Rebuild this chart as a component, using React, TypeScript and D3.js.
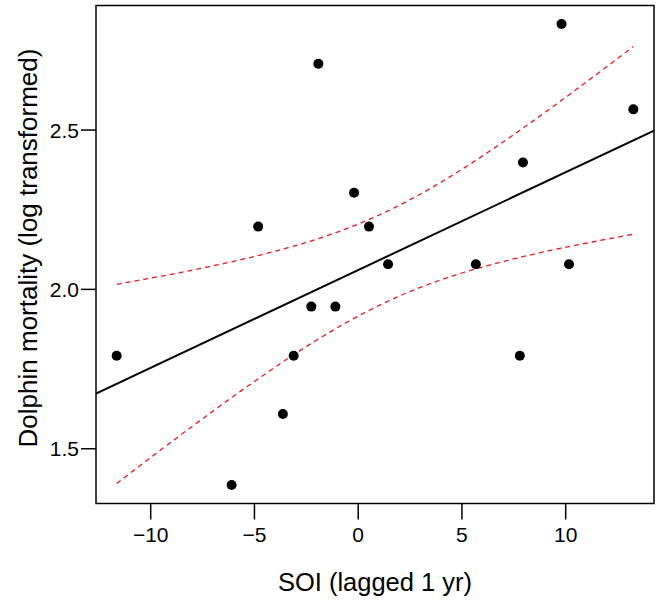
import React from "react";
import * as d3 from "d3";

const soi: number[] = [-11.64, -6.1, -3.63, -3.11, -2.26, -1.1, -4.82, -1.92, -0.2, 0.52, 1.44, 5.67, 7.79, 7.94, 9.8, 10.16, 13.26];
const mortality: number[] = [1.792, 1.386, 1.609, 1.792, 1.946, 1.946, 2.197, 2.708, 2.303, 2.197, 2.079, 2.079, 1.792, 2.398, 2.833, 2.079, 2.565];
const xTicks: number[] = [-10, -5, 0, 5, 10];
const yTicks: number[] = [1.5, 2.0, 2.5];
const xLabel = "SOI (lagged 1 yr)";
const yLabel = "Dolphin mortality (log transformed)";
const tQuantile = 1.753; // t(0.95, df = 15)

const W = 661, H = 602;
const left = 96, right = 654, top = 5.5, bottom = 503.5;

function rDomain(v: number[]): [number, number] {
  const [a, b] = d3.extent(v) as [number, number];
  const pad = (b - a) * 0.04;
  return [a - pad, b + pad];
}

export default function App() {
  const x = d3.scaleLinear().domain(rDomain(soi)).range([left, right]);
  const y = d3.scaleLinear().domain(rDomain(mortality)).range([bottom, top]);

  const n = soi.length;
  const mx = d3.mean(soi)!;
  const my = d3.mean(mortality)!;
  let sxx = 0, sxy = 0;
  soi.forEach((xi, i) => {
    sxx += (xi - mx) ** 2;
    sxy += (xi - mx) * (mortality[i] - my);
  });
  const b = sxy / sxx;
  const a = my - b * mx;
  let sse = 0;
  soi.forEach((xi, i) => {
    sse += (mortality[i] - (a + b * xi)) ** 2;
  });
  const s = Math.sqrt(sse / (n - 2));

  const [xmin, xmax] = d3.extent(soi) as [number, number];
  const grid = d3.range(0, 101).map((i) => xmin + ((xmax - xmin) * i) / 100);
  const band = grid.map((g) => {
    const fit = a + b * g;
    const hw = tQuantile * s * Math.sqrt(1 / n + (g - mx) ** 2 / sxx);
    return { g, lo: fit - hw, hi: fit + hw };
  });
  const lineHi = d3.line<{ g: number; hi: number; lo: number }>().x((d) => x(d.g)).y((d) => y(d.hi));
  const lineLo = d3.line<{ g: number; hi: number; lo: number }>().x((d) => x(d.g)).y((d) => y(d.lo));

  const [dx0, dx1] = x.domain();
  const font = "'Liberation Sans', Arial, Helvetica, sans-serif";

  return (
    <svg width={W} height={H} style={{ position: "absolute", left: 0, top: 0, background: "#fff" }} fontFamily={font}>
      <defs>
        <clipPath id="plotclip">
          <rect x={left} y={top} width={right - left} height={bottom - top} />
        </clipPath>
      </defs>
      <rect x={0} y={0} width={W} height={H} fill="#fff" />
      {/* regression line */}
      <line
        x1={x(dx0)} y1={y(a + b * dx0)} x2={x(dx1)} y2={y(a + b * dx1)}
        stroke="#000" strokeWidth={2} clipPath="url(#plotclip)"
      />
      {/* confidence band */}
      <path d={lineHi(band)!} fill="none" stroke="#e8191e" strokeWidth={1.3} strokeDasharray="5,4" />
      <path d={lineLo(band)!} fill="none" stroke="#e8191e" strokeWidth={1.3} strokeDasharray="5,4" />
      {/* points */}
      {soi.map((xi, i) => (
        <circle key={i} cx={x(xi)} cy={y(mortality[i])} r={5} fill="#000" />
      ))}
      {/* frame */}
      <rect x={left} y={top} width={right - left} height={bottom - top} fill="none" stroke="#000" strokeWidth={1.5} />
      {/* x axis */}
      {xTicks.map((t) => (
        <g key={t}>
          <line x1={x(t)} x2={x(t)} y1={bottom} y2={bottom + 16} stroke="#000" strokeWidth={1.5} />
          <text x={x(t)} y={542} textAnchor="middle" fontSize={21} fill="#000">
            {t < 0 ? "\u2212" + Math.abs(t) : String(t)}
          </text>
        </g>
      ))}
      {/* y axis */}
      {yTicks.map((t) => (
        <g key={t}>
          <line x1={left - 15} x2={left} y1={y(t)} y2={y(t)} stroke="#000" strokeWidth={1.5} />
          <text x={79} y={y(t)} dy="0.36em" textAnchor="end" fontSize={21} fill="#000">
            {t.toFixed(1)}
          </text>
        </g>
      ))}
      <text x={(left + right) / 2} y={591} textAnchor="middle" fontSize={25.5} fill="#000">
        {xLabel}
      </text>
      <text transform={`translate(37,248) rotate(-90)`} textAnchor="middle" fontSize={26} fill="#000">
        {yLabel}
      </text>
    </svg>
  );
}
